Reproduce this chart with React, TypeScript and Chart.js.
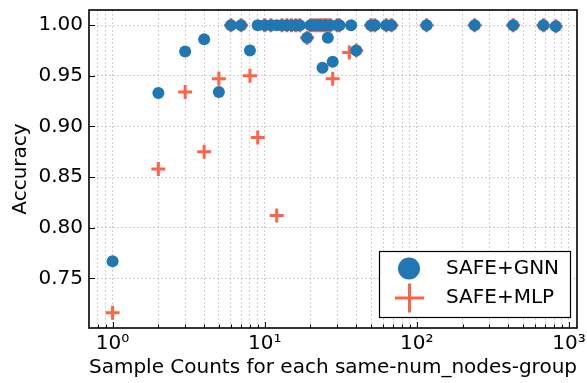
import React, { useEffect, useRef } from 'react';
import { Chart, registerables } from 'chart.js';

Chart.register(...registerables);

// ---- data ----
const gnnX = [1, 2, 3, 4, 5, 6, 7, 8, 9, 10, 11, 12, 13, 14, 15, 16, 17, 19, 20, 21, 22, 23, 24, 25, 26, 27, 28, 30, 31, 37, 40, 50, 53, 63, 68, 116, 240, 430, 680, 820];
const gnnY = [0.767, 0.933, 0.974, 0.986, 0.934, 1, 1, 0.975, 1, 1, 1, 1, 1, 1, 1, 1, 1, 0.9875, 1, 1, 1, 1, 0.958, 1, 0.9875, 1, 0.964, 1, 1, 1, 0.975, 1, 1, 1, 1, 1, 1, 1, 1, 0.999];
const mlpX = [1, 2, 3, 4, 5, 6, 7, 8, 9, 10, 11, 12, 13, 14, 15, 16, 17, 19, 20, 21, 22, 23, 24, 25, 26, 27, 28, 30, 31, 36, 40, 50, 53, 63, 68, 116, 240, 430, 680, 820];
const mlpY = [0.716, 0.858, 0.934, 0.875, 0.947, 1, 1, 0.95, 0.889, 1, 1, 0.812, 1, 1, 1, 1, 1, 0.9875, 1, 1, 1, 1, 1, 1, 1, 1, 0.947, 1, 1, 0.973, 0.975, 1, 1, 1, 1, 1, 1, 1, 1, 0.999];
const seriesNames = ['SAFE+GNN', 'SAFE+MLP'];
const xMajorTicks = [1, 10, 100, 1000];
const xMajorLabels = ['10⁰', '10¹', '10²', '10³'];
const yTicks = [0.75, 0.8, 0.85, 0.9, 0.95, 1.0];
const xTitle = 'Sample Counts for each same-num_nodes-group';
const yTitle = 'Accuracy';

const BLUE = '#1f77b4';
const RED = 'tomato';
const FONT = 'DejaVu Sans';

const X_MIN = 0.72;
const X_MAX = 1130;

function xTickValues(): number[] {
  const out: number[] = [];
  for (let p = -1; p <= 3; p++) {
    for (let m = 1; m <= 9; m++) {
      const v = m * Math.pow(10, p);
      if (v >= X_MIN && v <= X_MAX) out.push(+v.toPrecision(6));
    }
  }
  return out;
}

const framePlugin = {
  id: 'frameAndLegend',
  afterDraw(chart: any) {
    const { ctx, chartArea } = chart;
    const { left, right, top, bottom } = chartArea;
    const xs = chart.scales.x;
    const ys = chart.scales.y;
    ctx.save();
    // inward ticks
    ctx.strokeStyle = '#000';
    ctx.lineWidth = 1;
    for (const v of xTickValues()) {
      const px = Math.round(xs.getPixelForValue(v)) + 0.5;
      const major = xMajorTicks.includes(v);
      ctx.beginPath();
      ctx.moveTo(px, bottom);
      ctx.lineTo(px, bottom - (major ? 6 : 3.5));
      ctx.stroke();
    }
    for (const v of yTicks) {
      const py = Math.round(ys.getPixelForValue(v)) + 0.5;
      ctx.beginPath();
      ctx.moveTo(left, py);
      ctx.lineTo(left + 6, py);
      ctx.stroke();
    }
    // frame
    ctx.lineWidth = 1.6;
    ctx.strokeRect(left, top, right - left, bottom - top);

    // legend
    const lx0 = 379, ly0 = 251, lx1 = 570, ly1 = 317;
    ctx.fillStyle = '#fff';
    ctx.fillRect(lx0, ly0, lx1 - lx0, ly1 - ly0);
    ctx.lineWidth = 1.2;
    ctx.strokeStyle = '#000';
    ctx.strokeRect(lx0 + 0.5, ly0 + 0.5, lx1 - lx0, ly1 - ly0);
    // circle marker
    ctx.fillStyle = BLUE;
    ctx.beginPath();
    ctx.arc(409, 268.5, 11, 0, Math.PI * 2);
    ctx.fill();
    // cross marker
    ctx.strokeStyle = RED;
    ctx.lineWidth = 3;
    ctx.beginPath();
    ctx.moveTo(395, 298);
    ctx.lineTo(424, 298);
    ctx.moveTo(409.5, 283.5);
    ctx.lineTo(409.5, 312.5);
    ctx.stroke();
    ctx.fillStyle = '#000';
    ctx.font = `20px "${FONT}"`;
    ctx.textBaseline = 'middle';
    ctx.textAlign = 'left';
    ctx.fillText(seriesNames[0], 446, 269);
    ctx.fillText(seriesNames[1], 446, 298);
    ctx.restore();
  },
};

export default function App() {
  const ref = useRef<HTMLCanvasElement | null>(null);

  useEffect(() => {
    if (!ref.current) return;
    const gridColor = 'rgba(176,176,176,0.75)';
    const chart = new Chart(ref.current, {
      type: 'scatter',
      data: {
        datasets: [
          {
            label: seriesNames[0],
            data: gnnX.map((x, i) => ({ x, y: gnnY[i] })),
            pointStyle: 'circle',
            pointRadius: 6,
            pointBackgroundColor: BLUE,
            pointBorderWidth: 0,
            borderColor: BLUE,
            backgroundColor: BLUE,
          },
          {
            label: seriesNames[1],
            data: mlpX.map((x, i) => ({ x, y: mlpY[i] })),
            pointStyle: 'cross',
            pointRadius: 7,
            pointBorderWidth: 3,
            pointBorderColor: RED,
            borderColor: RED,
            backgroundColor: RED,
          },
        ],
      },
      options: {
        responsive: false,
        animation: false,
        events: [],
        layout: { padding: { left: 0, right: 7, top: 8, bottom: 0 } },
        plugins: {
          legend: { display: false },
          tooltip: { enabled: false },
        },
        scales: {
          x: {
            type: 'logarithmic',
            min: X_MIN,
            max: X_MAX,
            afterBuildTicks: (scale: any) => {
              scale.ticks = xTickValues().map((v) => ({ value: v }));
            },
            afterFit: (scale: any) => {
              scale.height = 55;
              scale.paddingLeft = 0;
              scale.paddingRight = 0;
            },
            grid: {
              color: gridColor,
              lineWidth: 0.8,
              drawTicks: false,
            },
            border: { display: false, dash: [2, 2] },
            ticks: {
              autoSkip: false,
              maxRotation: 0,
              minRotation: 0,
              padding: 4,
              color: '#000',
              font: { family: FONT, size: 20 },
              callback: (v: any) => {
                const idx = xMajorTicks.indexOf(Number(v));
                return idx >= 0 ? xMajorLabels[idx] : '';
              },
            },
            title: {
              display: true,
              text: xTitle,
              color: '#000',
              font: { family: FONT, size: 20 },
              padding: { top: 0, bottom: 3 },
            },
          },
          y: {
            type: 'linear',
            min: 0.701,
            max: 1.015,
            afterBuildTicks: (scale: any) => {
              scale.ticks = yTicks.map((v) => ({ value: v }));
            },
            afterFit: (scale: any) => {
              scale.width = 89;
              scale.paddingTop = 0;
              scale.paddingBottom = 0;
            },
            grid: {
              color: gridColor,
              lineWidth: 0.8,
              drawTicks: false,
            },
            border: { display: false, dash: [2, 2] },
            ticks: {
              padding: 6,
              color: '#000',
              font: { family: FONT, size: 20 },
              callback: (v: any) => Number(v).toFixed(2),
            },
            title: {
              display: true,
              text: yTitle,
              color: '#000',
              font: { family: FONT, size: 20 },
              padding: { top: 9, bottom: 0 },
            },
          },
        },
      },
      plugins: [framePlugin],
    });
    return () => chart.destroy();
  }, []);

  return (
    <div style={{ position: 'absolute', left: 0, top: 0, width: 587, height: 383, background: '#fff' }}>
      <canvas ref={ref} width={587} height={383} style={{ display: 'block', width: 587, height: 383 }} />
    </div>
  );
}
